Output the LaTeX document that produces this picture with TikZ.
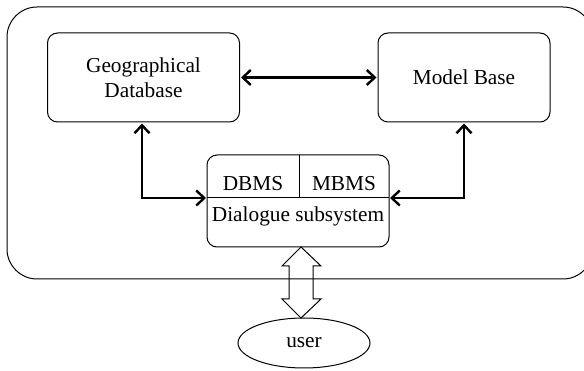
\documentclass[tikz,border=0pt]{standalone}
\usepackage{fontspec}
\setmainfont{Liberation Serif}
\usetikzlibrary{arrows.meta,shapes.geometric,calc}
\begin{document}
\begin{tikzpicture}[x=1pt,y=-1pt,
  tip/.tip={Straight Barb[length=8pt,width=15pt,line width=2.4pt]},
  box/.style={draw,line width=1pt,rounded corners=10pt,inner sep=0pt,align=center,font=\fontsize{21.3}{25}\selectfont},
  thickline/.style={line width=2.6pt},
  txt/.style={font=\fontsize{21.3}{25}\selectfont,inner sep=0pt}]
\useasboundingbox (0,0) rectangle (584,371);
\clip (0,0) rectangle (584,371);
\draw[line width=1pt,rounded corners=30pt] (7,7) rectangle (593,279);
\node[box,minimum width=192pt,minimum height=89pt] (gd) at (143.5,77.5) {Geographical\\Database};
\node[box,minimum width=172pt,minimum height=89pt] (mb) at (464,77.5) {Model Base};
\node[box,minimum width=182pt,minimum height=92pt] (ds) at (298,201) {};
\coordinate (dl) at (207,198);
\coordinate (dr) at (389,198);
\draw[line width=1pt] (dl) -- (dr);
\draw[line width=1pt] (299,155) -- (299,198);
\node[txt] (dbms) at (253,184) {DBMS};
\node[txt] (mbms) at (344,184) {MBMS};
\node[txt] (dlg) at (298,216) {Dialogue subsystem};
\node[draw,line width=1pt,ellipse,minimum width=132pt,minimum height=50pt,inner sep=0pt,font=\fontsize{21.3}{25}\selectfont] (user) at (304,343) {user};
\draw[thickline,tip-tip,shorten <=1pt,shorten >=1pt] (gd.east) -- (mb.west);
\coordinate (lc) at (142,198);
\coordinate (rc) at (464,198);
\draw[thickline,-tip,shorten >=1pt] (lc) -- (lc |- gd.south);
\draw[thickline,-tip,shorten >=1pt] ($(lc)+(0,-1.3)$) -- (lc) -- (dl);
\draw[thickline,-tip,shorten >=1pt] (rc) -- (rc |- mb.south);
\draw[thickline,-tip,shorten >=1pt] ($(rc)+(0,-1.3)$) -- (rc) -- (dr);
\draw[line width=1pt,line join=miter] (301,247) -- (321,266) -- (313,266) -- (313,299) -- (321,299) -- (301,318) -- (282,299) -- (289,299) -- (289,266) -- (282,266) -- cycle;
\end{tikzpicture}
\end{document}
